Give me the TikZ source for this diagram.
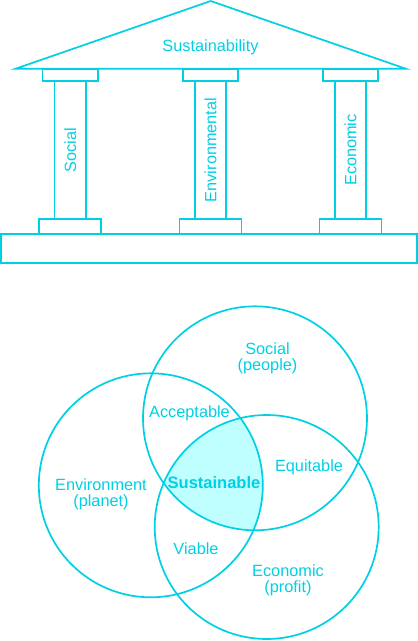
\documentclass[tikz,border=0pt]{standalone}
\usepackage{fontspec}
\setmainfont{Liberation Sans}
\definecolor{cyanline}{RGB}{0,208,228}
\definecolor{cyanfill}{RGB}{192,255,255}
\begin{document}
\begin{tikzpicture}[x=1pt,y=-1pt,
  part/.style={draw=cyanline,line width=1.7pt},
  lbl/.style={text=cyanline,font=\fontsize{16.3}{16}\selectfont,align=center,inner sep=0pt},
  blbl/.style={lbl,font=\fontsize{16.5}{16}\selectfont\bfseries},
  vlbl/.style={lbl,rotate=90}]
\useasboundingbox (0,0) rectangle (418,641);
% temple
\draw[part] (15.7,68.7) -- (210.7,1) -- (405.7,68.7) -- cycle;
\foreach \cx in {70.3,210.5,350.5}{
  \draw[part] (\cx-27.8,68.7) rectangle (\cx+27.8,80.7);
  \draw[part] (\cx-15.8,80.7) rectangle (\cx+15.8,219.3);
  \draw[part] (\cx-31,219.3) rectangle (\cx+31,234.3);
}
\draw[part] (1.3,234.3) rectangle (417,263.3);
\node[lbl] (sust) at (210.5,47) {Sustainability};
\node[vlbl] (psoc) at (70.3,150) {Social};
\node[vlbl] (penv) at (210.5,150) {Environmental};
\node[vlbl] (peco) at (350.5,150) {Economic};
% venn
\coordinate (csoc) at (255,418.3);
\coordinate (cenv) at (150.8,485.3);
\coordinate (ceco) at (266.7,527);
\begin{scope}
  \clip (csoc) circle (112);
  \clip (cenv) circle (112);
  \fill[cyanfill] (ceco) circle (112);
\end{scope}
\draw[part] (csoc) circle (112);
\draw[part] (cenv) circle (112);
\draw[part] (ceco) circle (112);
\node[lbl] (tsoc) at (267.5,358) {Social\\(people)};
\node[lbl] (tacc) at (189.5,413) {Acceptable};
\node[lbl] (tequ) at (309,467) {Equitable};
\node[lbl] (tenv) at (101,494.5) {Environment\\(planet)};
\node[blbl] (tsus) at (214,483) {Sustainable};
\node[lbl] (tvia) at (196,549) {Viable};
\node[lbl] (teco) at (288,580) {Economic\\(profit)};
\end{tikzpicture}
\end{document}
